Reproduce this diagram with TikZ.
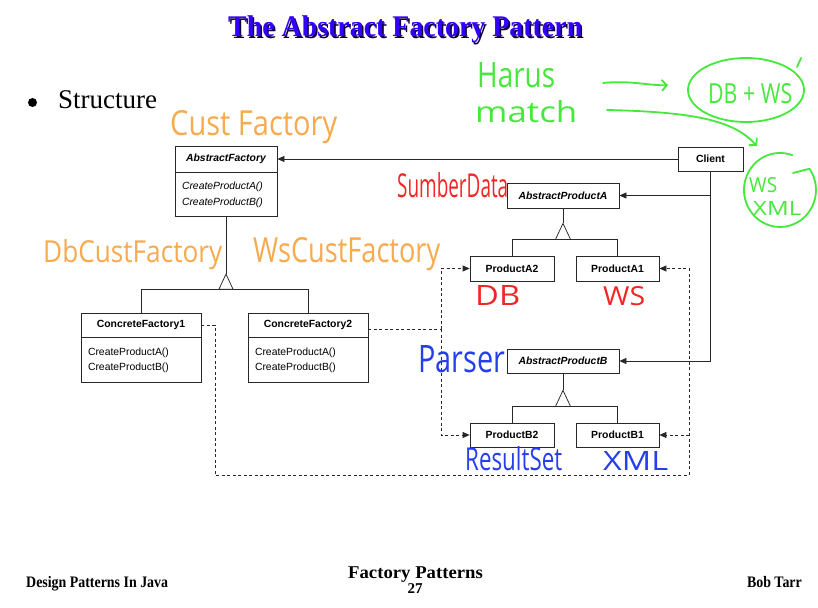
\documentclass[tikz,border=0pt]{standalone}
\usepackage{graphicx}
\usepackage{fontspec}
\setmainfont{Liberation Serif}
\setsansfont{Liberation Sans}
\newfontfamily\hand{Open Sans}
\usetikzlibrary{arrows.meta,calc,shapes.geometric}
\definecolor{ttlblue}{RGB}{51,0,255}
\definecolor{ttlshadow}{RGB}{15,0,60}
\definecolor{hgreen}{RGB}{70,232,60}
\definecolor{horange}{RGB}{248,170,78}
\definecolor{hred}{RGB}{242,38,38}
\definecolor{hblue}{RGB}{38,62,235}
\definecolor{uml}{RGB}{40,40,40}
\newcommand{\umlfont}{\sffamily\fontsize{10.4}{15.5}\selectfont}
\newcommand{\hw}[3]{\resizebox{#1pt}{#2pt}{\hand #3}}
\newcommand{\ftfont}{\fontsize{16}{18}\selectfont\bfseries}
\begin{document}
\begin{tikzpicture}[x=1pt,y=-1pt,
  line/.style={draw=uml,line width=0.75pt},
  hdr/.style={draw=uml,line width=0.75pt,fill=white,inner sep=0pt,font=\umlfont\bfseries},
  bodybox/.style={draw=uml,line width=0.75pt,fill=white,inner xsep=7pt,inner ysep=0pt,align=left,font=\umlfont,anchor=north},
  arr/.style={-{Triangle[length=7pt,width=6pt]}},
  dsh/.style={draw=uml,line width=0.75pt,dash pattern=on 3pt off 2.5pt},
  handw/.style={inner sep=0pt,anchor=base west},
  gpen/.style={draw=hgreen,line width=1.8pt,line cap=round,line join=round},
  garr/.style={-{Straight Barb[length=5pt,width=11pt,line width=1.8pt]}},
]
\fill[white] (0,0) rectangle (818,607);
\useasboundingbox (0,0) rectangle (818,607);

% ---------- title ----------
\node[anchor=base west,inner sep=0pt,text=ttlshadow] (titles) at (229.6,38.6) {\fontsize{30}{36}\selectfont\bfseries\scalebox{0.93}[1]{The Abstract Factory Pattern}};
\node[anchor=base west,inner sep=0pt,text=ttlblue] (title) at (228,37) {\fontsize{30}{36}\selectfont\bfseries\scalebox{0.93}[1]{The Abstract Factory Pattern}};

% ---------- bullet ----------
\fill[black] (32.5,102.5) circle[radius=4.5pt];
\node[anchor=base west,inner sep=0pt] (struct) at (58,108) {\fontsize{27}{30}\selectfont Structure};

% ---------- classes ----------
\node[hdr,minimum width=102pt,minimum height=26pt] (afh) at (226,159) {\itshape AbstractFactory};
\node[bodybox,text width=88pt,minimum height=44pt,font=\umlfont\itshape] (afb) at (afh.south) {CreateProductA()\\CreateProductB()};

\node[hdr,minimum width=120pt,minimum height=24pt] (cf1h) at (141,325) {ConcreteFactory1};
\node[bodybox,text width=106pt,minimum height=45pt] (cf1b) at (cf1h.south) {CreateProductA()\\CreateProductB()};

\node[hdr,minimum width=120pt,minimum height=24pt] (cf2h) at (308,325) {ConcreteFactory2};
\node[bodybox,text width=106pt,minimum height=45pt] (cf2b) at (cf2h.south) {CreateProductA()\\CreateProductB()};

\node[hdr,minimum width=65pt,minimum height=24pt] (cl) at (710.5,159) {Client};

\node[hdr,minimum width=112pt,minimum height=25pt] (apa) at (563,195.5) {\itshape AbstractProductA};
\node[hdr,minimum width=84pt,minimum height=25pt] (pa2) at (512,268.5) {ProductA2};
\node[hdr,minimum width=83pt,minimum height=25pt] (pa1) at (617.5,268.5) {ProductA1};

\node[hdr,minimum width=112pt,minimum height=24pt] (apb) at (563,361) {\itshape AbstractProductB};
\node[hdr,minimum width=84pt,minimum height=24pt] (pb2) at (512,435) {ProductB2};
\node[hdr,minimum width=83pt,minimum height=24pt] (pb1) at (617.5,435) {ProductB1};

% ---------- inheritance ----------
\coordinate (tAF) at ($(afb.south)+(0,57)$);
\coordinate (bAF) at ($(tAF)+(0,15)$);
\draw[line] (afb.south) -- (tAF);
\draw[line] (cf1h.north) |- (bAF) -| (cf2h.north);
\draw[line,fill=white] (tAF) -- ++(-7,15) -- ++(14,0) -- cycle;

\coordinate (tA) at ($(apa.south)+(0,15)$);
\coordinate (bA) at ($(tA)+(0,16)$);
\draw[line] (apa.south) -- (tA);
\draw[line] (pa2.north) |- (bA) -| (pa1.north);
\draw[line,fill=white] (tA) -- ++(-7.5,16) -- ++(15,0) -- cycle;

\coordinate (tB) at ($(apb.south)+(0,17)$);
\coordinate (bB) at ($(tB)+(0,16)$);
\draw[line] (apb.south) -- (tB);
\draw[line] (pb2.north) |- (bB) -| (pb1.north);
\draw[line,fill=white] (tB) -- ++(-7.5,16) -- ++(15,0) -- cycle;

% ---------- client associations ----------
\draw[line,arr] (cl.west) -- (afh.east);
\coordinate (cj) at (cl.south |- apb.east);
\draw[line,arr] (cl.south) -- (cj) -- (apb.east);
\draw[line,arr] (cl.south |- apa.east) -- (apa.east);

% ---------- dashed creates ----------
\coordinate (dl) at (215,475);
\coordinate (dr) at (689,475);
\draw[dsh,arr] (cf1h.east) -| (dl) -- (dr) |- (pa1.east);
\draw[dsh,arr] (dr |- pb1.east) -- (pb1.east);
\coordinate (dm) at (441,329);
\draw[dsh] (cf2h.east |- dm) -- (dm);
\draw[dsh,arr] (dm) |- (pa2.west);
\draw[dsh,arr] (dm) |- (pb2.west);

% ---------- handwritten annotations ----------
\node[handw,text=horange] (hcust) at (170,135) {\hw{167}{25}{Cust Factory}};
\node[handw,text=horange] (hdb) at (43,262) {\hw{179}{23}{DbCustFactory}};
\node[handw,text=horange] (hws) at (253,262) {\hw{187}{25}{WsCustFactory}};
\node[handw,text=hred] (hsum) at (397,197) {\hw{111}{25}{SumberData}};
\node[handw,text=hred] (hdbr) at (475,305) {\hw{45}{20}{DB}};
\node[handw,text=hred] (hwsr) at (603,305) {\hw{42}{19}{WS}};
\node[handw,text=hblue] (hpar) at (418,372) {\hw{87}{27}{Parser}};
\node[handw,text=hblue] (hres) at (465,470) {\hw{97}{24}{ResultSet}};
\node[handw,text=hblue] (hxml) at (603,470) {\hw{65}{19}{XML}};

\node[handw,text=hgreen] (hharus) at (477,88) {\hw{78}{25}{Harus}};
\node[handw,text=hgreen] (hmatch) at (475,122) {\hw{102}{22}{match}};
\node[handw,text=hgreen] (hdbws) at (708,103) {\hw{84}{20}{DB + WS}};
\node[handw,text=hgreen] (hws2) at (749,192) {\hw{28}{15}{WS}};
\node[handw,text=hgreen] (hxml2) at (753,215) {\hw{48}{14}{XML}};

\node[gpen,ellipse,minimum width=116pt,minimum height=64pt,inner sep=0pt] (c1) at (746,90) {};
\draw[gpen] (797,67) -- (801,58);
\coordinate (c2s) at (792.3,155.2);
\draw[gpen] (c2s) arc[start angle=70,end angle=395,x radius=36pt,y radius=37pt] -- (793,173);

\coordinate (g1s) at (603,83);
\coordinate (g1e) at (668,85);
\draw[gpen,garr] (g1s) .. controls (630,80) and (650,86) .. (g1e);
\coordinate (g2s) at (607,110);
\coordinate (g2e) at (757,146);
\draw[gpen,garr] (g2s) .. controls (700,112) and (735,122) .. (g2e);

% ---------- footer ----------
\node[anchor=base west,inner sep=0pt] (fl) at (26,587) {\ftfont\scalebox{0.87}[1]{Design Patterns In Java}};
\node[anchor=base,inner sep=0pt] (fc) at (415.5,578) {\fontsize{18}{20}\selectfont\bfseries\scalebox{1.04}[1]{Factory Patterns}};
\node[anchor=base,inner sep=0pt] (fn) at (415,593) {\fontsize{15}{17}\selectfont\bfseries 27};
\node[anchor=base east,inner sep=0pt] (fr) at (802,587) {\ftfont\scalebox{0.87}[1]{Bob Tarr}};
\end{tikzpicture}
\end{document}
